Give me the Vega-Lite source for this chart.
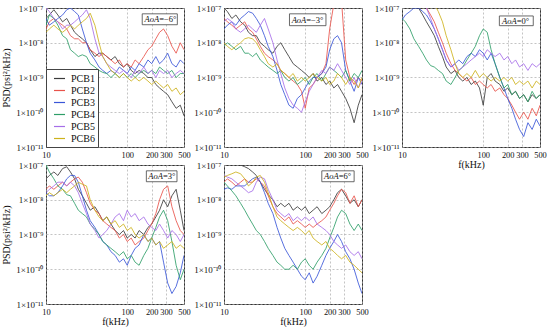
{
"$schema":"https://vega.github.io/schema/vega-lite/v6.json",
"padding":{"left":1,"top":3,"right":4,"bottom":0},
"config":{"font":"Liberation Serif","view":{"stroke":"#333","strokeWidth":1},
"axis":{"domain":false,"ticks":false,"grid":true,"gridColor":"#aaa","gridDash":[2,2],"gridWidth":0.7,"labelFont":"Liberation Serif","labelFontSize":9,"labelColor":"#111","titleFont":"Liberation Serif","titleFontSize":10,"titleFontWeight":"normal","titleColor":"#111","labelPadding":3},
"axisY":{"titlePadding":4},"axisX":{"titlePadding":1,"labelFontSize":8.4,"labelOverlap":false,"labelFlush":false}},
"datasets":{
"m6":[
{"s":"PCB1","f":10,"v":5e-8},{"s":"PCB1","f":11,"v":6.3e-8},{"s":"PCB1","f":12.5,"v":8.9e-8},{"s":"PCB1","f":14,"v":6.3e-8},{"s":"PCB1","f":16,"v":4e-8},{"s":"PCB1","f":18,"v":5e-8},{"s":"PCB1","f":20,"v":3.2e-8},{"s":"PCB1","f":22.5,"v":2e-8},{"s":"PCB1","f":25,"v":1.6e-8},{"s":"PCB1","f":28,"v":1.3e-8},{"s":"PCB1","f":31.5,"v":1e-8},{"s":"PCB1","f":35,"v":6.3e-9},{"s":"PCB1","f":40,"v":4e-9},{"s":"PCB1","f":45,"v":5e-9},{"s":"PCB1","f":50,"v":5e-9},{"s":"PCB1","f":56,"v":4e-9},{"s":"PCB1","f":63,"v":3.2e-9},{"s":"PCB1","f":71,"v":4e-9},{"s":"PCB1","f":80,"v":2.5e-9},{"s":"PCB1","f":90,"v":2e-9},{"s":"PCB1","f":100,"v":2.5e-9},{"s":"PCB1","f":112,"v":1.6e-9},{"s":"PCB1","f":125,"v":1.3e-9},{"s":"PCB1","f":140,"v":1.6e-9},{"s":"PCB1","f":160,"v":1.3e-9},{"s":"PCB1","f":180,"v":1e-9},{"s":"PCB1","f":200,"v":1e-9},{"s":"PCB1","f":225,"v":6.3e-10},{"s":"PCB1","f":250,"v":5e-10},{"s":"PCB1","f":280,"v":4e-10},{"s":"PCB1","f":315,"v":3.2e-10},{"s":"PCB1","f":355,"v":2e-10},{"s":"PCB1","f":400,"v":1.3e-10},{"s":"PCB1","f":450,"v":1.6e-10},{"s":"PCB1","f":500,"v":7.9e-11},
{"s":"PCB2","f":10,"v":2.5e-8},{"s":"PCB2","f":11,"v":4e-8},{"s":"PCB2","f":12.5,"v":5e-8},{"s":"PCB2","f":14,"v":4e-8},{"s":"PCB2","f":16,"v":3.2e-8},{"s":"PCB2","f":18,"v":2.5e-8},{"s":"PCB2","f":20,"v":1.6e-8},{"s":"PCB2","f":22.5,"v":1.3e-8},{"s":"PCB2","f":25,"v":1.3e-8},{"s":"PCB2","f":28,"v":1e-8},{"s":"PCB2","f":31.5,"v":1e-8},{"s":"PCB2","f":35,"v":6.3e-9},{"s":"PCB2","f":40,"v":5e-9},{"s":"PCB2","f":45,"v":4e-9},{"s":"PCB2","f":50,"v":5e-9},{"s":"PCB2","f":56,"v":4e-9},{"s":"PCB2","f":63,"v":3.2e-9},{"s":"PCB2","f":71,"v":2.5e-9},{"s":"PCB2","f":80,"v":3.2e-9},{"s":"PCB2","f":90,"v":2e-9},{"s":"PCB2","f":100,"v":2.5e-9},{"s":"PCB2","f":112,"v":2e-9},{"s":"PCB2","f":125,"v":3.2e-9},{"s":"PCB2","f":140,"v":2.5e-9},{"s":"PCB2","f":160,"v":4e-9},{"s":"PCB2","f":180,"v":6.3e-9},{"s":"PCB2","f":200,"v":7.9e-9},{"s":"PCB2","f":225,"v":1.3e-8},{"s":"PCB2","f":250,"v":2e-8},{"s":"PCB2","f":280,"v":2.5e-8},{"s":"PCB2","f":315,"v":1.6e-8},{"s":"PCB2","f":355,"v":7.9e-9},{"s":"PCB2","f":400,"v":5e-9},{"s":"PCB2","f":450,"v":1e-8},{"s":"PCB2","f":500,"v":6.3e-9},
{"s":"PCB3","f":10,"v":5e-8},{"s":"PCB3","f":11,"v":3.2e-8},{"s":"PCB3","f":12.5,"v":4e-8},{"s":"PCB3","f":14,"v":5e-8},{"s":"PCB3","f":16,"v":6.3e-8},{"s":"PCB3","f":18,"v":8.9e-8},{"s":"PCB3","f":20,"v":1e-7},{"s":"PCB3","f":22.5,"v":7.9e-8},{"s":"PCB3","f":25,"v":6.3e-8},{"s":"PCB3","f":28,"v":2.5e-8},{"s":"PCB3","f":31.5,"v":1e-8},{"s":"PCB3","f":35,"v":5e-9},{"s":"PCB3","f":40,"v":3.2e-9},{"s":"PCB3","f":45,"v":2e-9},{"s":"PCB3","f":50,"v":1.6e-9},{"s":"PCB3","f":56,"v":1.3e-9},{"s":"PCB3","f":63,"v":1.6e-9},{"s":"PCB3","f":71,"v":1.3e-9},{"s":"PCB3","f":80,"v":2e-9},{"s":"PCB3","f":90,"v":1.6e-9},{"s":"PCB3","f":100,"v":1.3e-9},{"s":"PCB3","f":112,"v":2e-9},{"s":"PCB3","f":125,"v":1.6e-9},{"s":"PCB3","f":140,"v":2.5e-9},{"s":"PCB3","f":160,"v":2e-9},{"s":"PCB3","f":180,"v":3.2e-9},{"s":"PCB3","f":200,"v":2.5e-9},{"s":"PCB3","f":225,"v":4e-9},{"s":"PCB3","f":250,"v":2.5e-9},{"s":"PCB3","f":280,"v":3.2e-9},{"s":"PCB3","f":315,"v":5e-9},{"s":"PCB3","f":355,"v":2.5e-9},{"s":"PCB3","f":400,"v":2e-9},{"s":"PCB3","f":450,"v":3.2e-9},{"s":"PCB3","f":500,"v":2.5e-9},
{"s":"PCB4","f":10,"v":3.2e-8},{"s":"PCB4","f":11,"v":6.3e-8},{"s":"PCB4","f":12.5,"v":5e-8},{"s":"PCB4","f":14,"v":3.2e-8},{"s":"PCB4","f":16,"v":1.6e-8},{"s":"PCB4","f":18,"v":1.3e-8},{"s":"PCB4","f":20,"v":6.3e-9},{"s":"PCB4","f":22.5,"v":5e-9},{"s":"PCB4","f":25,"v":4e-9},{"s":"PCB4","f":28,"v":4.5e-9},{"s":"PCB4","f":31.5,"v":4e-9},{"s":"PCB4","f":35,"v":2.5e-9},{"s":"PCB4","f":40,"v":2e-9},{"s":"PCB4","f":45,"v":1.6e-9},{"s":"PCB4","f":50,"v":1.4e-9},{"s":"PCB4","f":56,"v":1.3e-9},{"s":"PCB4","f":63,"v":1e-9},{"s":"PCB4","f":71,"v":1.3e-9},{"s":"PCB4","f":80,"v":1e-9},{"s":"PCB4","f":90,"v":1.3e-9},{"s":"PCB4","f":100,"v":1e-9},{"s":"PCB4","f":112,"v":1.3e-9},{"s":"PCB4","f":125,"v":1e-9},{"s":"PCB4","f":140,"v":1.3e-9},{"s":"PCB4","f":160,"v":1.6e-9},{"s":"PCB4","f":180,"v":1.3e-9},{"s":"PCB4","f":200,"v":1.6e-9},{"s":"PCB4","f":225,"v":1.3e-9},{"s":"PCB4","f":250,"v":2e-9},{"s":"PCB4","f":280,"v":1.6e-9},{"s":"PCB4","f":315,"v":1.3e-9},{"s":"PCB4","f":355,"v":1.6e-9},{"s":"PCB4","f":400,"v":1e-9},{"s":"PCB4","f":450,"v":1.3e-9},{"s":"PCB4","f":500,"v":1.3e-9},
{"s":"PCB5","f":10,"v":1e-7},{"s":"PCB5","f":11,"v":7.9e-8},{"s":"PCB5","f":12.5,"v":5e-8},{"s":"PCB5","f":14,"v":4e-8},{"s":"PCB5","f":16,"v":2.5e-8},{"s":"PCB5","f":18,"v":3.2e-8},{"s":"PCB5","f":20,"v":3.2e-8},{"s":"PCB5","f":22.5,"v":4e-8},{"s":"PCB5","f":25,"v":5e-8},{"s":"PCB5","f":28,"v":6.3e-8},{"s":"PCB5","f":31.5,"v":8.9e-8},{"s":"PCB5","f":35,"v":5e-8},{"s":"PCB5","f":40,"v":1.3e-8},{"s":"PCB5","f":45,"v":5e-9},{"s":"PCB5","f":50,"v":4e-9},{"s":"PCB5","f":56,"v":2.5e-9},{"s":"PCB5","f":63,"v":2e-9},{"s":"PCB5","f":71,"v":1.6e-9},{"s":"PCB5","f":80,"v":1.3e-9},{"s":"PCB5","f":90,"v":1.6e-9},{"s":"PCB5","f":100,"v":1.3e-9},{"s":"PCB5","f":112,"v":1e-9},{"s":"PCB5","f":125,"v":1.6e-9},{"s":"PCB5","f":140,"v":1.3e-9},{"s":"PCB5","f":160,"v":2e-9},{"s":"PCB5","f":180,"v":1.3e-9},{"s":"PCB5","f":200,"v":1.6e-9},{"s":"PCB5","f":225,"v":1e-9},{"s":"PCB5","f":250,"v":1.6e-9},{"s":"PCB5","f":280,"v":1.3e-9},{"s":"PCB5","f":315,"v":1.6e-9},{"s":"PCB5","f":355,"v":1e-9},{"s":"PCB5","f":400,"v":1.3e-9},{"s":"PCB5","f":450,"v":1.6e-9},{"s":"PCB5","f":500,"v":1.3e-9},
{"s":"PCB6","f":10,"v":2e-8},{"s":"PCB6","f":11,"v":2.5e-8},{"s":"PCB6","f":12.5,"v":3.2e-8},{"s":"PCB6","f":14,"v":2.5e-8},{"s":"PCB6","f":16,"v":2e-8},{"s":"PCB6","f":18,"v":2.5e-8},{"s":"PCB6","f":20,"v":3.2e-8},{"s":"PCB6","f":22.5,"v":2.5e-8},{"s":"PCB6","f":25,"v":3.2e-8},{"s":"PCB6","f":28,"v":4e-8},{"s":"PCB6","f":31.5,"v":5e-8},{"s":"PCB6","f":35,"v":7.1e-8},{"s":"PCB6","f":40,"v":3.2e-8},{"s":"PCB6","f":45,"v":1e-8},{"s":"PCB6","f":50,"v":4e-9},{"s":"PCB6","f":56,"v":2.5e-9},{"s":"PCB6","f":63,"v":1.6e-9},{"s":"PCB6","f":71,"v":1.3e-9},{"s":"PCB6","f":80,"v":1e-9},{"s":"PCB6","f":90,"v":1.3e-9},{"s":"PCB6","f":100,"v":1e-9},{"s":"PCB6","f":112,"v":7.9e-10},{"s":"PCB6","f":125,"v":1e-9},{"s":"PCB6","f":140,"v":7.9e-10},{"s":"PCB6","f":160,"v":1e-9},{"s":"PCB6","f":180,"v":7.9e-10},{"s":"PCB6","f":200,"v":6.3e-10},{"s":"PCB6","f":225,"v":7.9e-10},{"s":"PCB6","f":250,"v":6.3e-10},{"s":"PCB6","f":280,"v":5e-10},{"s":"PCB6","f":315,"v":6.3e-10},{"s":"PCB6","f":355,"v":4e-10},{"s":"PCB6","f":400,"v":5e-10},{"s":"PCB6","f":450,"v":3.2e-10},{"s":"PCB6","f":500,"v":4e-10}
],
"m3":[
{"s":"PCB1","f":10,"v":1e-7},{"s":"PCB1","f":11,"v":7.9e-8},{"s":"PCB1","f":12.5,"v":5e-8},{"s":"PCB1","f":14,"v":6.3e-8},{"s":"PCB1","f":16,"v":4e-8},{"s":"PCB1","f":18,"v":3.2e-8},{"s":"PCB1","f":20,"v":2e-8},{"s":"PCB1","f":22.5,"v":1.6e-8},{"s":"PCB1","f":25,"v":1.6e-8},{"s":"PCB1","f":28,"v":1e-8},{"s":"PCB1","f":31.5,"v":7.9e-9},{"s":"PCB1","f":35,"v":6.3e-9},{"s":"PCB1","f":40,"v":5e-9},{"s":"PCB1","f":45,"v":7.9e-9},{"s":"PCB1","f":50,"v":1e-8},{"s":"PCB1","f":56,"v":6.3e-9},{"s":"PCB1","f":63,"v":4e-9},{"s":"PCB1","f":71,"v":2.5e-9},{"s":"PCB1","f":80,"v":2e-9},{"s":"PCB1","f":90,"v":1.6e-9},{"s":"PCB1","f":100,"v":1.3e-9},{"s":"PCB1","f":112,"v":1e-9},{"s":"PCB1","f":125,"v":1.3e-9},{"s":"PCB1","f":140,"v":7.9e-10},{"s":"PCB1","f":160,"v":1e-9},{"s":"PCB1","f":180,"v":6.3e-10},{"s":"PCB1","f":200,"v":7.9e-10},{"s":"PCB1","f":225,"v":5e-10},{"s":"PCB1","f":250,"v":6.3e-10},{"s":"PCB1","f":280,"v":4e-10},{"s":"PCB1","f":315,"v":2.5e-10},{"s":"PCB1","f":355,"v":1.3e-10},{"s":"PCB1","f":400,"v":5e-11},{"s":"PCB1","f":450,"v":1.6e-10},{"s":"PCB1","f":500,"v":3.2e-10},
{"s":"PCB2","f":10,"v":5e-8},{"s":"PCB2","f":11,"v":4e-8},{"s":"PCB2","f":12.5,"v":3.2e-8},{"s":"PCB2","f":14,"v":2.5e-8},{"s":"PCB2","f":16,"v":3.2e-8},{"s":"PCB2","f":18,"v":4e-8},{"s":"PCB2","f":20,"v":2.5e-8},{"s":"PCB2","f":22.5,"v":2e-8},{"s":"PCB2","f":25,"v":1.3e-8},{"s":"PCB2","f":28,"v":7.9e-9},{"s":"PCB2","f":31.5,"v":5e-9},{"s":"PCB2","f":35,"v":4e-9},{"s":"PCB2","f":40,"v":3.2e-9},{"s":"PCB2","f":45,"v":2.5e-9},{"s":"PCB2","f":50,"v":1.6e-9},{"s":"PCB2","f":56,"v":1.3e-9},{"s":"PCB2","f":63,"v":1e-9},{"s":"PCB2","f":71,"v":7.9e-10},{"s":"PCB2","f":80,"v":6.3e-10},{"s":"PCB2","f":90,"v":4e-10},{"s":"PCB2","f":100,"v":1.3e-10},{"s":"PCB2","f":112,"v":5e-10},{"s":"PCB2","f":125,"v":6.3e-10},{"s":"PCB2","f":140,"v":1e-9},{"s":"PCB2","f":160,"v":1.3e-9},{"s":"PCB2","f":180,"v":2.5e-9},{"s":"PCB2","f":200,"v":2.5e-8},{"s":"PCB2","f":225,"v":1.3e-7},{"s":"PCB2","f":250,"v":1e-7},{"s":"PCB2","f":280,"v":1.6e-7},{"s":"PCB2","f":315,"v":3.2e-9},{"s":"PCB2","f":355,"v":1e-9},{"s":"PCB2","f":400,"v":6.3e-10},{"s":"PCB2","f":450,"v":1e-9},{"s":"PCB2","f":500,"v":7.9e-10},
{"s":"PCB3","f":10,"v":2.5e-8},{"s":"PCB3","f":11,"v":3.2e-8},{"s":"PCB3","f":12.5,"v":4e-8},{"s":"PCB3","f":14,"v":3.2e-8},{"s":"PCB3","f":16,"v":5e-8},{"s":"PCB3","f":18,"v":6.3e-8},{"s":"PCB3","f":20,"v":7.9e-8},{"s":"PCB3","f":22.5,"v":7.1e-8},{"s":"PCB3","f":25,"v":5e-8},{"s":"PCB3","f":28,"v":3.2e-8},{"s":"PCB3","f":31.5,"v":1.6e-8},{"s":"PCB3","f":35,"v":7.9e-9},{"s":"PCB3","f":40,"v":4e-9},{"s":"PCB3","f":45,"v":1.6e-9},{"s":"PCB3","f":50,"v":6.3e-10},{"s":"PCB3","f":56,"v":3.2e-10},{"s":"PCB3","f":63,"v":1.6e-10},{"s":"PCB3","f":71,"v":1.3e-10},{"s":"PCB3","f":80,"v":2.5e-10},{"s":"PCB3","f":90,"v":3.2e-10},{"s":"PCB3","f":100,"v":5e-10},{"s":"PCB3","f":112,"v":7.9e-10},{"s":"PCB3","f":125,"v":1e-9},{"s":"PCB3","f":140,"v":1e-9},{"s":"PCB3","f":160,"v":1.3e-9},{"s":"PCB3","f":180,"v":2e-9},{"s":"PCB3","f":200,"v":6.3e-9},{"s":"PCB3","f":225,"v":1.3e-8},{"s":"PCB3","f":250,"v":1.6e-8},{"s":"PCB3","f":280,"v":1e-8},{"s":"PCB3","f":315,"v":1.6e-9},{"s":"PCB3","f":355,"v":7.9e-10},{"s":"PCB3","f":400,"v":4e-10},{"s":"PCB3","f":450,"v":1e-9},{"s":"PCB3","f":500,"v":6.3e-10},
{"s":"PCB4","f":10,"v":7.9e-9},{"s":"PCB4","f":11,"v":1e-8},{"s":"PCB4","f":12.5,"v":7.9e-9},{"s":"PCB4","f":14,"v":6.3e-9},{"s":"PCB4","f":16,"v":7.9e-9},{"s":"PCB4","f":18,"v":5e-9},{"s":"PCB4","f":20,"v":5e-9},{"s":"PCB4","f":22.5,"v":4e-9},{"s":"PCB4","f":25,"v":5e-9},{"s":"PCB4","f":28,"v":3.2e-9},{"s":"PCB4","f":31.5,"v":2.5e-9},{"s":"PCB4","f":35,"v":2e-9},{"s":"PCB4","f":40,"v":1.6e-9},{"s":"PCB4","f":45,"v":1.3e-9},{"s":"PCB4","f":50,"v":1.6e-9},{"s":"PCB4","f":56,"v":1e-9},{"s":"PCB4","f":63,"v":7.9e-10},{"s":"PCB4","f":71,"v":1e-9},{"s":"PCB4","f":80,"v":6.3e-10},{"s":"PCB4","f":90,"v":7.9e-10},{"s":"PCB4","f":100,"v":1e-9},{"s":"PCB4","f":112,"v":6.3e-10},{"s":"PCB4","f":125,"v":1e-9},{"s":"PCB4","f":140,"v":1.3e-9},{"s":"PCB4","f":160,"v":7.9e-10},{"s":"PCB4","f":180,"v":1.3e-9},{"s":"PCB4","f":200,"v":2e-9},{"s":"PCB4","f":225,"v":1.6e-9},{"s":"PCB4","f":250,"v":1.3e-9},{"s":"PCB4","f":280,"v":1e-9},{"s":"PCB4","f":315,"v":1.6e-9},{"s":"PCB4","f":355,"v":7.9e-10},{"s":"PCB4","f":400,"v":1.3e-9},{"s":"PCB4","f":450,"v":1e-9},{"s":"PCB4","f":500,"v":1.6e-9},
{"s":"PCB5","f":10,"v":4e-8},{"s":"PCB5","f":11,"v":5e-8},{"s":"PCB5","f":12.5,"v":4e-8},{"s":"PCB5","f":14,"v":2.5e-8},{"s":"PCB5","f":16,"v":2e-8},{"s":"PCB5","f":18,"v":2.5e-8},{"s":"PCB5","f":20,"v":3.2e-8},{"s":"PCB5","f":22.5,"v":2.5e-8},{"s":"PCB5","f":25,"v":2e-8},{"s":"PCB5","f":28,"v":3.2e-8},{"s":"PCB5","f":31.5,"v":5e-8},{"s":"PCB5","f":35,"v":2.5e-8},{"s":"PCB5","f":40,"v":1e-8},{"s":"PCB5","f":45,"v":3.2e-9},{"s":"PCB5","f":50,"v":1.3e-9},{"s":"PCB5","f":56,"v":5e-10},{"s":"PCB5","f":63,"v":2.5e-10},{"s":"PCB5","f":71,"v":1.6e-10},{"s":"PCB5","f":80,"v":1.3e-10},{"s":"PCB5","f":90,"v":1e-10},{"s":"PCB5","f":100,"v":2e-10},{"s":"PCB5","f":112,"v":4e-10},{"s":"PCB5","f":125,"v":6.3e-10},{"s":"PCB5","f":140,"v":1e-9},{"s":"PCB5","f":160,"v":1.6e-9},{"s":"PCB5","f":180,"v":1.3e-9},{"s":"PCB5","f":200,"v":2e-9},{"s":"PCB5","f":225,"v":1.6e-9},{"s":"PCB5","f":250,"v":2.5e-9},{"s":"PCB5","f":280,"v":1.6e-9},{"s":"PCB5","f":315,"v":1e-9},{"s":"PCB5","f":355,"v":6.3e-10},{"s":"PCB5","f":400,"v":1e-9},{"s":"PCB5","f":450,"v":5e-10},{"s":"PCB5","f":500,"v":7.9e-10},
{"s":"PCB6","f":10,"v":1e-8},{"s":"PCB6","f":11,"v":7.9e-9},{"s":"PCB6","f":12.5,"v":6.3e-9},{"s":"PCB6","f":14,"v":7.9e-9},{"s":"PCB6","f":16,"v":1e-8},{"s":"PCB6","f":18,"v":1.3e-8},{"s":"PCB6","f":20,"v":1.4e-8},{"s":"PCB6","f":22.5,"v":1.3e-8},{"s":"PCB6","f":25,"v":1e-8},{"s":"PCB6","f":28,"v":6.3e-9},{"s":"PCB6","f":31.5,"v":4e-9},{"s":"PCB6","f":35,"v":2.5e-9},{"s":"PCB6","f":40,"v":2e-9},{"s":"PCB6","f":45,"v":2.5e-9},{"s":"PCB6","f":50,"v":1.6e-9},{"s":"PCB6","f":56,"v":1.3e-9},{"s":"PCB6","f":63,"v":1e-9},{"s":"PCB6","f":71,"v":1.3e-9},{"s":"PCB6","f":80,"v":7.9e-10},{"s":"PCB6","f":90,"v":1e-9},{"s":"PCB6","f":100,"v":7.9e-10},{"s":"PCB6","f":112,"v":1e-9},{"s":"PCB6","f":125,"v":1.3e-9},{"s":"PCB6","f":140,"v":1e-9},{"s":"PCB6","f":160,"v":7.9e-10},{"s":"PCB6","f":180,"v":1e-9},{"s":"PCB6","f":200,"v":6.3e-10},{"s":"PCB6","f":225,"v":7.9e-10},{"s":"PCB6","f":250,"v":1.3e-9},{"s":"PCB6","f":280,"v":1e-9},{"s":"PCB6","f":315,"v":6.3e-10},{"s":"PCB6","f":355,"v":1e-9},{"s":"PCB6","f":400,"v":7.9e-10},{"s":"PCB6","f":450,"v":5e-10},{"s":"PCB6","f":500,"v":1e-9}
],
"z0":[
{"s":"PCB1","f":10,"v":1.6e-7},{"s":"PCB1","f":11,"v":1.6e-7},{"s":"PCB1","f":12.5,"v":1.3e-7},{"s":"PCB1","f":14,"v":1.3e-7},{"s":"PCB1","f":16,"v":1e-7},{"s":"PCB1","f":18,"v":6.3e-8},{"s":"PCB1","f":20,"v":4e-8},{"s":"PCB1","f":22.5,"v":2.5e-8},{"s":"PCB1","f":25,"v":1.6e-8},{"s":"PCB1","f":28,"v":7.9e-9},{"s":"PCB1","f":31.5,"v":4e-9},{"s":"PCB1","f":35,"v":2e-9},{"s":"PCB1","f":40,"v":1.3e-9},{"s":"PCB1","f":45,"v":1.6e-9},{"s":"PCB1","f":50,"v":1e-9},{"s":"PCB1","f":56,"v":7.9e-10},{"s":"PCB1","f":63,"v":1e-9},{"s":"PCB1","f":71,"v":6.3e-10},{"s":"PCB1","f":80,"v":7.9e-10},{"s":"PCB1","f":90,"v":5e-10},{"s":"PCB1","f":100,"v":1.6e-10},{"s":"PCB1","f":112,"v":1e-9},{"s":"PCB1","f":125,"v":1.3e-9},{"s":"PCB1","f":140,"v":7.9e-10},{"s":"PCB1","f":160,"v":6.3e-10},{"s":"PCB1","f":180,"v":4e-10},{"s":"PCB1","f":200,"v":5e-10},{"s":"PCB1","f":225,"v":3.2e-10},{"s":"PCB1","f":250,"v":4e-10},{"s":"PCB1","f":280,"v":2.5e-10},{"s":"PCB1","f":315,"v":3.2e-10},{"s":"PCB1","f":355,"v":2e-10},{"s":"PCB1","f":400,"v":3.2e-10},{"s":"PCB1","f":450,"v":2.5e-10},{"s":"PCB1","f":500,"v":3.2e-10},
{"s":"PCB2","f":10,"v":1.6e-7},{"s":"PCB2","f":11,"v":1.6e-7},{"s":"PCB2","f":12.5,"v":1.6e-7},{"s":"PCB2","f":14,"v":1.6e-7},{"s":"PCB2","f":16,"v":1.6e-7},{"s":"PCB2","f":18,"v":1.3e-7},{"s":"PCB2","f":20,"v":1e-7},{"s":"PCB2","f":22.5,"v":6.3e-8},{"s":"PCB2","f":25,"v":4e-8},{"s":"PCB2","f":28,"v":2e-8},{"s":"PCB2","f":31.5,"v":1e-8},{"s":"PCB2","f":35,"v":5e-9},{"s":"PCB2","f":40,"v":2.5e-9},{"s":"PCB2","f":45,"v":1.6e-9},{"s":"PCB2","f":50,"v":1.3e-9},{"s":"PCB2","f":56,"v":1e-9},{"s":"PCB2","f":63,"v":7.9e-10},{"s":"PCB2","f":71,"v":1e-9},{"s":"PCB2","f":80,"v":6.3e-10},{"s":"PCB2","f":90,"v":7.9e-10},{"s":"PCB2","f":100,"v":6.3e-10},{"s":"PCB2","f":112,"v":5e-10},{"s":"PCB2","f":125,"v":6.3e-10},{"s":"PCB2","f":140,"v":4e-10},{"s":"PCB2","f":160,"v":5e-10},{"s":"PCB2","f":180,"v":3.2e-10},{"s":"PCB2","f":200,"v":2.5e-10},{"s":"PCB2","f":225,"v":1.6e-10},{"s":"PCB2","f":250,"v":1e-10},{"s":"PCB2","f":280,"v":6.3e-11},{"s":"PCB2","f":315,"v":1e-10},{"s":"PCB2","f":355,"v":6.3e-11},{"s":"PCB2","f":400,"v":1.3e-10},{"s":"PCB2","f":450,"v":7.9e-11},{"s":"PCB2","f":500,"v":1.6e-10},
{"s":"PCB3","f":10,"v":4.5e-8},{"s":"PCB3","f":11,"v":6.3e-8},{"s":"PCB3","f":12.5,"v":7.9e-8},{"s":"PCB3","f":14,"v":1e-7},{"s":"PCB3","f":16,"v":1e-7},{"s":"PCB3","f":18,"v":7.9e-8},{"s":"PCB3","f":20,"v":6.3e-8},{"s":"PCB3","f":22.5,"v":4e-8},{"s":"PCB3","f":25,"v":2.5e-8},{"s":"PCB3","f":28,"v":1.3e-8},{"s":"PCB3","f":31.5,"v":6.3e-9},{"s":"PCB3","f":35,"v":3.2e-9},{"s":"PCB3","f":40,"v":2e-9},{"s":"PCB3","f":45,"v":2.5e-9},{"s":"PCB3","f":50,"v":3.2e-9},{"s":"PCB3","f":56,"v":2.5e-9},{"s":"PCB3","f":63,"v":4e-9},{"s":"PCB3","f":71,"v":5e-9},{"s":"PCB3","f":80,"v":4e-9},{"s":"PCB3","f":90,"v":6.3e-9},{"s":"PCB3","f":100,"v":5e-9},{"s":"PCB3","f":112,"v":3.2e-9},{"s":"PCB3","f":125,"v":5e-9},{"s":"PCB3","f":140,"v":2.5e-9},{"s":"PCB3","f":160,"v":1e-9},{"s":"PCB3","f":180,"v":5e-10},{"s":"PCB3","f":200,"v":2.5e-10},{"s":"PCB3","f":225,"v":1.3e-10},{"s":"PCB3","f":250,"v":6.3e-11},{"s":"PCB3","f":280,"v":3.2e-11},{"s":"PCB3","f":315,"v":2e-11},{"s":"PCB3","f":355,"v":5e-11},{"s":"PCB3","f":400,"v":3.2e-11},{"s":"PCB3","f":450,"v":6.3e-11},{"s":"PCB3","f":500,"v":4e-11},
{"s":"PCB4","f":10,"v":5e-8},{"s":"PCB4","f":11,"v":4e-8},{"s":"PCB4","f":12.5,"v":2.5e-8},{"s":"PCB4","f":14,"v":1.3e-8},{"s":"PCB4","f":16,"v":7.9e-9},{"s":"PCB4","f":18,"v":5e-9},{"s":"PCB4","f":20,"v":3.2e-9},{"s":"PCB4","f":22.5,"v":2.2e-9},{"s":"PCB4","f":25,"v":2e-9},{"s":"PCB4","f":28,"v":1.6e-9},{"s":"PCB4","f":31.5,"v":1.3e-9},{"s":"PCB4","f":35,"v":7.9e-10},{"s":"PCB4","f":40,"v":6.3e-10},{"s":"PCB4","f":45,"v":1e-9},{"s":"PCB4","f":50,"v":1.6e-9},{"s":"PCB4","f":56,"v":2e-9},{"s":"PCB4","f":63,"v":3.2e-9},{"s":"PCB4","f":71,"v":5e-9},{"s":"PCB4","f":80,"v":7.9e-9},{"s":"PCB4","f":90,"v":1.6e-8},{"s":"PCB4","f":100,"v":2.5e-8},{"s":"PCB4","f":112,"v":2e-8},{"s":"PCB4","f":125,"v":6.3e-9},{"s":"PCB4","f":140,"v":2.5e-9},{"s":"PCB4","f":160,"v":1e-9},{"s":"PCB4","f":180,"v":5e-10},{"s":"PCB4","f":200,"v":6.3e-10},{"s":"PCB4","f":225,"v":3.2e-10},{"s":"PCB4","f":250,"v":4e-10},{"s":"PCB4","f":280,"v":2.5e-10},{"s":"PCB4","f":315,"v":3.2e-10},{"s":"PCB4","f":355,"v":2e-10},{"s":"PCB4","f":400,"v":4e-10},{"s":"PCB4","f":450,"v":2.5e-10},{"s":"PCB4","f":500,"v":3.2e-10},
{"s":"PCB5","f":10,"v":1.6e-7},{"s":"PCB5","f":11,"v":1.6e-7},{"s":"PCB5","f":12.5,"v":1.6e-7},{"s":"PCB5","f":14,"v":1.6e-7},{"s":"PCB5","f":16,"v":1.6e-7},{"s":"PCB5","f":18,"v":1.3e-7},{"s":"PCB5","f":20,"v":1e-7},{"s":"PCB5","f":22.5,"v":5e-8},{"s":"PCB5","f":25,"v":2.5e-8},{"s":"PCB5","f":28,"v":1.3e-8},{"s":"PCB5","f":31.5,"v":6.3e-9},{"s":"PCB5","f":35,"v":3.2e-9},{"s":"PCB5","f":40,"v":2e-9},{"s":"PCB5","f":45,"v":2.5e-9},{"s":"PCB5","f":50,"v":1.6e-9},{"s":"PCB5","f":56,"v":2e-9},{"s":"PCB5","f":63,"v":2.5e-9},{"s":"PCB5","f":71,"v":3.2e-9},{"s":"PCB5","f":80,"v":4e-9},{"s":"PCB5","f":90,"v":5e-9},{"s":"PCB5","f":100,"v":4e-9},{"s":"PCB5","f":112,"v":6.3e-9},{"s":"PCB5","f":125,"v":5e-9},{"s":"PCB5","f":140,"v":4e-9},{"s":"PCB5","f":160,"v":5e-9},{"s":"PCB5","f":180,"v":3.2e-9},{"s":"PCB5","f":200,"v":4e-9},{"s":"PCB5","f":225,"v":2.5e-9},{"s":"PCB5","f":250,"v":3.2e-9},{"s":"PCB5","f":280,"v":2e-9},{"s":"PCB5","f":315,"v":2.5e-9},{"s":"PCB5","f":355,"v":1.6e-9},{"s":"PCB5","f":400,"v":2.5e-9},{"s":"PCB5","f":450,"v":2e-9},{"s":"PCB5","f":500,"v":2.5e-9},
{"s":"PCB6","f":10,"v":1.3e-7},{"s":"PCB6","f":11,"v":1.3e-7},{"s":"PCB6","f":12.5,"v":1.6e-7},{"s":"PCB6","f":14,"v":1.3e-7},{"s":"PCB6","f":16,"v":1.3e-7},{"s":"PCB6","f":18,"v":1e-7},{"s":"PCB6","f":20,"v":1.3e-7},{"s":"PCB6","f":22.5,"v":1e-7},{"s":"PCB6","f":25,"v":1.3e-7},{"s":"PCB6","f":28,"v":7.9e-8},{"s":"PCB6","f":31.5,"v":4e-8},{"s":"PCB6","f":35,"v":1.6e-8},{"s":"PCB6","f":40,"v":6.3e-9},{"s":"PCB6","f":45,"v":2.5e-9},{"s":"PCB6","f":50,"v":1.3e-9},{"s":"PCB6","f":56,"v":1e-9},{"s":"PCB6","f":63,"v":1.3e-9},{"s":"PCB6","f":71,"v":1e-9},{"s":"PCB6","f":80,"v":1.6e-9},{"s":"PCB6","f":90,"v":1e-9},{"s":"PCB6","f":100,"v":1.3e-9},{"s":"PCB6","f":112,"v":1e-9},{"s":"PCB6","f":125,"v":7.9e-10},{"s":"PCB6","f":140,"v":1e-9},{"s":"PCB6","f":160,"v":7.9e-10},{"s":"PCB6","f":180,"v":1e-9},{"s":"PCB6","f":200,"v":7.9e-10},{"s":"PCB6","f":225,"v":1e-9},{"s":"PCB6","f":250,"v":6.3e-10},{"s":"PCB6","f":280,"v":7.9e-10},{"s":"PCB6","f":315,"v":6.3e-10},{"s":"PCB6","f":355,"v":7.9e-10},{"s":"PCB6","f":400,"v":5e-10},{"s":"PCB6","f":450,"v":7.9e-10},{"s":"PCB6","f":500,"v":6.3e-10}
],
"p3":[
{"s":"PCB1","f":10,"v":4e-8},{"s":"PCB1","f":11,"v":5e-8},{"s":"PCB1","f":12.5,"v":6.3e-8},{"s":"PCB1","f":14,"v":5e-8},{"s":"PCB1","f":16,"v":7.9e-8},{"s":"PCB1","f":18,"v":8.9e-8},{"s":"PCB1","f":20,"v":6.3e-8},{"s":"PCB1","f":22.5,"v":4e-8},{"s":"PCB1","f":25,"v":2e-8},{"s":"PCB1","f":28,"v":1.3e-8},{"s":"PCB1","f":31.5,"v":7.9e-9},{"s":"PCB1","f":35,"v":5e-9},{"s":"PCB1","f":40,"v":6.3e-9},{"s":"PCB1","f":45,"v":4e-9},{"s":"PCB1","f":50,"v":2.5e-9},{"s":"PCB1","f":56,"v":3.2e-9},{"s":"PCB1","f":63,"v":2e-9},{"s":"PCB1","f":71,"v":1.3e-9},{"s":"PCB1","f":80,"v":1e-9},{"s":"PCB1","f":90,"v":1.3e-9},{"s":"PCB1","f":100,"v":7.9e-10},{"s":"PCB1","f":112,"v":1e-9},{"s":"PCB1","f":125,"v":7.9e-10},{"s":"PCB1","f":140,"v":1.3e-9},{"s":"PCB1","f":160,"v":1e-9},{"s":"PCB1","f":180,"v":1.6e-9},{"s":"PCB1","f":200,"v":2e-9},{"s":"PCB1","f":225,"v":3.2e-9},{"s":"PCB1","f":250,"v":5e-9},{"s":"PCB1","f":280,"v":1e-8},{"s":"PCB1","f":315,"v":6.3e-9},{"s":"PCB1","f":355,"v":1.3e-8},{"s":"PCB1","f":400,"v":2e-8},{"s":"PCB1","f":450,"v":5e-9},{"s":"PCB1","f":500,"v":1.3e-9},
{"s":"PCB2","f":10,"v":2e-8},{"s":"PCB2","f":11,"v":2.5e-8},{"s":"PCB2","f":12.5,"v":2e-8},{"s":"PCB2","f":14,"v":2.5e-8},{"s":"PCB2","f":16,"v":3.2e-8},{"s":"PCB2","f":18,"v":2.5e-8},{"s":"PCB2","f":20,"v":3.2e-8},{"s":"PCB2","f":22.5,"v":4e-8},{"s":"PCB2","f":25,"v":4.5e-8},{"s":"PCB2","f":28,"v":3.2e-8},{"s":"PCB2","f":31.5,"v":1.6e-8},{"s":"PCB2","f":35,"v":7.9e-9},{"s":"PCB2","f":40,"v":5e-9},{"s":"PCB2","f":45,"v":4e-9},{"s":"PCB2","f":50,"v":2.5e-9},{"s":"PCB2","f":56,"v":2e-9},{"s":"PCB2","f":63,"v":1.6e-9},{"s":"PCB2","f":71,"v":1.3e-9},{"s":"PCB2","f":80,"v":7.9e-10},{"s":"PCB2","f":90,"v":1e-9},{"s":"PCB2","f":100,"v":6.3e-10},{"s":"PCB2","f":112,"v":7.9e-10},{"s":"PCB2","f":125,"v":5e-10},{"s":"PCB2","f":140,"v":6.3e-10},{"s":"PCB2","f":160,"v":7.9e-10},{"s":"PCB2","f":180,"v":1.3e-9},{"s":"PCB2","f":200,"v":2e-9},{"s":"PCB2","f":225,"v":4e-9},{"s":"PCB2","f":250,"v":1e-8},{"s":"PCB2","f":280,"v":2e-8},{"s":"PCB2","f":315,"v":2.5e-8},{"s":"PCB2","f":355,"v":6.3e-9},{"s":"PCB2","f":400,"v":2.5e-9},{"s":"PCB2","f":450,"v":1.3e-9},{"s":"PCB2","f":500,"v":1e-9},
{"s":"PCB3","f":10,"v":1.6e-8},{"s":"PCB3","f":11,"v":1.3e-8},{"s":"PCB3","f":12.5,"v":1.3e-8},{"s":"PCB3","f":14,"v":1.6e-8},{"s":"PCB3","f":16,"v":2.5e-8},{"s":"PCB3","f":18,"v":4e-8},{"s":"PCB3","f":20,"v":5e-8},{"s":"PCB3","f":22.5,"v":5e-8},{"s":"PCB3","f":25,"v":3.2e-8},{"s":"PCB3","f":28,"v":1.3e-8},{"s":"PCB3","f":31.5,"v":5e-9},{"s":"PCB3","f":35,"v":2.5e-9},{"s":"PCB3","f":40,"v":1.6e-9},{"s":"PCB3","f":45,"v":1e-9},{"s":"PCB3","f":50,"v":6.3e-10},{"s":"PCB3","f":56,"v":5e-10},{"s":"PCB3","f":63,"v":3.2e-10},{"s":"PCB3","f":71,"v":2.5e-10},{"s":"PCB3","f":80,"v":1.6e-10},{"s":"PCB3","f":90,"v":2e-10},{"s":"PCB3","f":100,"v":1.3e-10},{"s":"PCB3","f":112,"v":2.5e-10},{"s":"PCB3","f":125,"v":4e-10},{"s":"PCB3","f":140,"v":5e-10},{"s":"PCB3","f":160,"v":1e-9},{"s":"PCB3","f":180,"v":6.3e-10},{"s":"PCB3","f":200,"v":7.9e-10},{"s":"PCB3","f":225,"v":5e-10},{"s":"PCB3","f":250,"v":6.3e-10},{"s":"PCB3","f":280,"v":1.6e-10},{"s":"PCB3","f":315,"v":4e-11},{"s":"PCB3","f":355,"v":2e-11},{"s":"PCB3","f":400,"v":3.2e-11},{"s":"PCB3","f":450,"v":7.9e-11},{"s":"PCB3","f":500,"v":2.5e-10},
{"s":"PCB4","f":10,"v":1e-7},{"s":"PCB4","f":11,"v":6.3e-8},{"s":"PCB4","f":12.5,"v":4e-8},{"s":"PCB4","f":14,"v":2.5e-8},{"s":"PCB4","f":16,"v":2e-8},{"s":"PCB4","f":18,"v":1.4e-8},{"s":"PCB4","f":20,"v":1.3e-8},{"s":"PCB4","f":22.5,"v":7.9e-9},{"s":"PCB4","f":25,"v":5e-9},{"s":"PCB4","f":28,"v":4e-9},{"s":"PCB4","f":31.5,"v":3.2e-9},{"s":"PCB4","f":35,"v":2e-9},{"s":"PCB4","f":40,"v":1.4e-9},{"s":"PCB4","f":45,"v":1e-9},{"s":"PCB4","f":50,"v":6.3e-10},{"s":"PCB4","f":56,"v":5e-10},{"s":"PCB4","f":63,"v":4e-10},{"s":"PCB4","f":71,"v":3.2e-10},{"s":"PCB4","f":80,"v":2.5e-10},{"s":"PCB4","f":90,"v":3.2e-10},{"s":"PCB4","f":100,"v":2e-10},{"s":"PCB4","f":112,"v":2.5e-10},{"s":"PCB4","f":125,"v":1.6e-10},{"s":"PCB4","f":140,"v":1.3e-10},{"s":"PCB4","f":160,"v":2.5e-10},{"s":"PCB4","f":180,"v":4e-10},{"s":"PCB4","f":200,"v":7.9e-10},{"s":"PCB4","f":225,"v":1.6e-9},{"s":"PCB4","f":250,"v":3.2e-9},{"s":"PCB4","f":280,"v":5e-9},{"s":"PCB4","f":315,"v":2.5e-9},{"s":"PCB4","f":355,"v":6.3e-10},{"s":"PCB4","f":400,"v":1.3e-10},{"s":"PCB4","f":450,"v":5e-11},{"s":"PCB4","f":500,"v":1e-10},
{"s":"PCB5","f":10,"v":1.6e-8},{"s":"PCB5","f":11,"v":2e-8},{"s":"PCB5","f":12.5,"v":2.5e-8},{"s":"PCB5","f":14,"v":3.2e-8},{"s":"PCB5","f":16,"v":3.2e-8},{"s":"PCB5","f":18,"v":2.5e-8},{"s":"PCB5","f":20,"v":3.2e-8},{"s":"PCB5","f":22.5,"v":2.5e-8},{"s":"PCB5","f":25,"v":1.6e-8},{"s":"PCB5","f":28,"v":7.9e-9},{"s":"PCB5","f":31.5,"v":4e-9},{"s":"PCB5","f":35,"v":2e-9},{"s":"PCB5","f":40,"v":1.3e-9},{"s":"PCB5","f":45,"v":7.9e-10},{"s":"PCB5","f":50,"v":1e-9},{"s":"PCB5","f":56,"v":1.3e-9},{"s":"PCB5","f":63,"v":2e-9},{"s":"PCB5","f":71,"v":3.2e-9},{"s":"PCB5","f":80,"v":4e-9},{"s":"PCB5","f":90,"v":2.5e-9},{"s":"PCB5","f":100,"v":5e-9},{"s":"PCB5","f":112,"v":3.2e-9},{"s":"PCB5","f":125,"v":4e-9},{"s":"PCB5","f":140,"v":2.5e-9},{"s":"PCB5","f":160,"v":3.2e-9},{"s":"PCB5","f":180,"v":2e-9},{"s":"PCB5","f":200,"v":1.6e-9},{"s":"PCB5","f":225,"v":1.3e-9},{"s":"PCB5","f":250,"v":2e-9},{"s":"PCB5","f":280,"v":1.3e-9},{"s":"PCB5","f":315,"v":7.9e-10},{"s":"PCB5","f":355,"v":1.3e-9},{"s":"PCB5","f":400,"v":1e-9},{"s":"PCB5","f":450,"v":6.3e-10},{"s":"PCB5","f":500,"v":1e-9},
{"s":"PCB6","f":10,"v":1.3e-8},{"s":"PCB6","f":11,"v":1.6e-8},{"s":"PCB6","f":12.5,"v":1.3e-8},{"s":"PCB6","f":14,"v":1.6e-8},{"s":"PCB6","f":16,"v":2e-8},{"s":"PCB6","f":18,"v":1.6e-8},{"s":"PCB6","f":20,"v":2e-8},{"s":"PCB6","f":22.5,"v":2.5e-8},{"s":"PCB6","f":25,"v":3.2e-8},{"s":"PCB6","f":28,"v":2.8e-8},{"s":"PCB6","f":31.5,"v":2.5e-8},{"s":"PCB6","f":35,"v":1e-8},{"s":"PCB6","f":40,"v":5e-9},{"s":"PCB6","f":45,"v":3.2e-9},{"s":"PCB6","f":50,"v":2.5e-9},{"s":"PCB6","f":56,"v":3.2e-9},{"s":"PCB6","f":63,"v":2e-9},{"s":"PCB6","f":71,"v":2.5e-9},{"s":"PCB6","f":80,"v":1.6e-9},{"s":"PCB6","f":90,"v":2e-9},{"s":"PCB6","f":100,"v":1.3e-9},{"s":"PCB6","f":112,"v":1.6e-9},{"s":"PCB6","f":125,"v":1e-9},{"s":"PCB6","f":140,"v":7.9e-10},{"s":"PCB6","f":160,"v":1e-9},{"s":"PCB6","f":180,"v":6.3e-10},{"s":"PCB6","f":200,"v":7.9e-10},{"s":"PCB6","f":225,"v":5e-10},{"s":"PCB6","f":250,"v":6.3e-10},{"s":"PCB6","f":280,"v":4e-10},{"s":"PCB6","f":315,"v":5e-10},{"s":"PCB6","f":355,"v":6.3e-10},{"s":"PCB6","f":400,"v":4e-10},{"s":"PCB6","f":450,"v":5e-10},{"s":"PCB6","f":500,"v":4e-10}
],
"p6":[
{"s":"PCB1","f":10,"v":1.6e-7},{"s":"PCB1","f":11,"v":1.6e-7},{"s":"PCB1","f":12.5,"v":1.3e-7},{"s":"PCB1","f":14,"v":1.3e-7},{"s":"PCB1","f":16,"v":1e-7},{"s":"PCB1","f":18,"v":8.9e-8},{"s":"PCB1","f":20,"v":7.9e-8},{"s":"PCB1","f":22.5,"v":6.3e-8},{"s":"PCB1","f":25,"v":5e-8},{"s":"PCB1","f":28,"v":3.2e-8},{"s":"PCB1","f":31.5,"v":2e-8},{"s":"PCB1","f":35,"v":1.4e-8},{"s":"PCB1","f":40,"v":1e-8},{"s":"PCB1","f":45,"v":6.3e-9},{"s":"PCB1","f":50,"v":7.9e-9},{"s":"PCB1","f":56,"v":6.3e-9},{"s":"PCB1","f":63,"v":7.9e-9},{"s":"PCB1","f":71,"v":5e-9},{"s":"PCB1","f":80,"v":6.3e-9},{"s":"PCB1","f":90,"v":5e-9},{"s":"PCB1","f":100,"v":6.3e-9},{"s":"PCB1","f":112,"v":4e-9},{"s":"PCB1","f":125,"v":5e-9},{"s":"PCB1","f":140,"v":6.3e-9},{"s":"PCB1","f":160,"v":4e-9},{"s":"PCB1","f":180,"v":5e-9},{"s":"PCB1","f":200,"v":6.3e-9},{"s":"PCB1","f":225,"v":1e-8},{"s":"PCB1","f":250,"v":1.6e-8},{"s":"PCB1","f":280,"v":2e-8},{"s":"PCB1","f":315,"v":1.3e-8},{"s":"PCB1","f":355,"v":7.9e-9},{"s":"PCB1","f":400,"v":1e-8},{"s":"PCB1","f":450,"v":6.3e-9},{"s":"PCB1","f":500,"v":1e-8},
{"s":"PCB2","f":10,"v":3.2e-8},{"s":"PCB2","f":11,"v":4e-8},{"s":"PCB2","f":12.5,"v":3.2e-8},{"s":"PCB2","f":14,"v":2.5e-8},{"s":"PCB2","f":16,"v":3.2e-8},{"s":"PCB2","f":18,"v":4e-8},{"s":"PCB2","f":20,"v":3.2e-8},{"s":"PCB2","f":22.5,"v":3.2e-8},{"s":"PCB2","f":25,"v":4e-8},{"s":"PCB2","f":28,"v":3.2e-8},{"s":"PCB2","f":31.5,"v":2.5e-8},{"s":"PCB2","f":35,"v":1.3e-8},{"s":"PCB2","f":40,"v":6.3e-9},{"s":"PCB2","f":45,"v":4e-9},{"s":"PCB2","f":50,"v":3.2e-9},{"s":"PCB2","f":56,"v":2.5e-9},{"s":"PCB2","f":63,"v":3.2e-9},{"s":"PCB2","f":71,"v":2e-9},{"s":"PCB2","f":80,"v":2.5e-9},{"s":"PCB2","f":90,"v":2e-9},{"s":"PCB2","f":100,"v":1.6e-9},{"s":"PCB2","f":112,"v":2e-9},{"s":"PCB2","f":125,"v":1.6e-9},{"s":"PCB2","f":140,"v":2e-9},{"s":"PCB2","f":160,"v":2.5e-9},{"s":"PCB2","f":180,"v":3.2e-9},{"s":"PCB2","f":200,"v":5e-9},{"s":"PCB2","f":225,"v":7.9e-9},{"s":"PCB2","f":250,"v":1.3e-8},{"s":"PCB2","f":280,"v":2e-8},{"s":"PCB2","f":315,"v":1.6e-8},{"s":"PCB2","f":355,"v":7.9e-9},{"s":"PCB2","f":400,"v":1.3e-8},{"s":"PCB2","f":450,"v":6.3e-9},{"s":"PCB2","f":500,"v":1e-8},
{"s":"PCB3","f":10,"v":2e-8},{"s":"PCB3","f":11,"v":2.2e-8},{"s":"PCB3","f":12.5,"v":2e-8},{"s":"PCB3","f":14,"v":2.5e-8},{"s":"PCB3","f":16,"v":2.5e-8},{"s":"PCB3","f":18,"v":2.5e-8},{"s":"PCB3","f":20,"v":3.2e-8},{"s":"PCB3","f":22.5,"v":4e-8},{"s":"PCB3","f":25,"v":4.5e-8},{"s":"PCB3","f":28,"v":3.2e-8},{"s":"PCB3","f":31.5,"v":1.6e-8},{"s":"PCB3","f":35,"v":7.9e-9},{"s":"PCB3","f":40,"v":4e-9},{"s":"PCB3","f":45,"v":1.6e-9},{"s":"PCB3","f":50,"v":7.9e-10},{"s":"PCB3","f":56,"v":4e-10},{"s":"PCB3","f":63,"v":2.5e-10},{"s":"PCB3","f":71,"v":1.6e-10},{"s":"PCB3","f":80,"v":1e-10},{"s":"PCB3","f":90,"v":6.3e-11},{"s":"PCB3","f":100,"v":5e-11},{"s":"PCB3","f":112,"v":7.9e-11},{"s":"PCB3","f":125,"v":4e-11},{"s":"PCB3","f":140,"v":6.3e-11},{"s":"PCB3","f":160,"v":1.3e-10},{"s":"PCB3","f":180,"v":2.5e-10},{"s":"PCB3","f":200,"v":4e-10},{"s":"PCB3","f":225,"v":6.3e-10},{"s":"PCB3","f":250,"v":1e-9},{"s":"PCB3","f":280,"v":6.3e-10},{"s":"PCB3","f":315,"v":3.2e-10},{"s":"PCB3","f":355,"v":2e-10},{"s":"PCB3","f":400,"v":1e-10},{"s":"PCB3","f":450,"v":4e-11},{"s":"PCB3","f":500,"v":2e-11},
{"s":"PCB4","f":10,"v":3.2e-8},{"s":"PCB4","f":11,"v":2.5e-8},{"s":"PCB4","f":12.5,"v":1.8e-8},{"s":"PCB4","f":14,"v":1.3e-8},{"s":"PCB4","f":16,"v":7.9e-9},{"s":"PCB4","f":18,"v":5e-9},{"s":"PCB4","f":20,"v":3.2e-9},{"s":"PCB4","f":22.5,"v":2e-9},{"s":"PCB4","f":25,"v":1.3e-9},{"s":"PCB4","f":28,"v":1e-9},{"s":"PCB4","f":31.5,"v":6.3e-10},{"s":"PCB4","f":35,"v":4e-10},{"s":"PCB4","f":40,"v":2.5e-10},{"s":"PCB4","f":45,"v":1.6e-10},{"s":"PCB4","f":50,"v":1.3e-10},{"s":"PCB4","f":56,"v":1e-10},{"s":"PCB4","f":63,"v":1e-10},{"s":"PCB4","f":71,"v":1.3e-10},{"s":"PCB4","f":80,"v":1e-10},{"s":"PCB4","f":90,"v":1.6e-10},{"s":"PCB4","f":100,"v":2e-10},{"s":"PCB4","f":112,"v":1.3e-10},{"s":"PCB4","f":125,"v":1e-10},{"s":"PCB4","f":140,"v":1.6e-10},{"s":"PCB4","f":160,"v":2.5e-10},{"s":"PCB4","f":180,"v":4e-10},{"s":"PCB4","f":200,"v":7.9e-10},{"s":"PCB4","f":225,"v":1.6e-9},{"s":"PCB4","f":250,"v":3.2e-9},{"s":"PCB4","f":280,"v":5e-9},{"s":"PCB4","f":315,"v":4e-9},{"s":"PCB4","f":355,"v":2e-9},{"s":"PCB4","f":400,"v":1.3e-9},{"s":"PCB4","f":450,"v":2e-9},{"s":"PCB4","f":500,"v":1.3e-9},
{"s":"PCB5","f":10,"v":5e-8},{"s":"PCB5","f":11,"v":4.5e-8},{"s":"PCB5","f":12.5,"v":4e-8},{"s":"PCB5","f":14,"v":3.2e-8},{"s":"PCB5","f":16,"v":2.5e-8},{"s":"PCB5","f":18,"v":2e-8},{"s":"PCB5","f":20,"v":1.6e-8},{"s":"PCB5","f":22.5,"v":1.8e-8},{"s":"PCB5","f":25,"v":3.2e-8},{"s":"PCB5","f":28,"v":4.5e-8},{"s":"PCB5","f":31.5,"v":4e-8},{"s":"PCB5","f":35,"v":2e-8},{"s":"PCB5","f":40,"v":1e-8},{"s":"PCB5","f":45,"v":5e-9},{"s":"PCB5","f":50,"v":4e-9},{"s":"PCB5","f":56,"v":3.2e-9},{"s":"PCB5","f":63,"v":4e-9},{"s":"PCB5","f":71,"v":2.5e-9},{"s":"PCB5","f":80,"v":3.2e-9},{"s":"PCB5","f":90,"v":2.5e-9},{"s":"PCB5","f":100,"v":3.2e-9},{"s":"PCB5","f":112,"v":2.5e-9},{"s":"PCB5","f":125,"v":3.2e-9},{"s":"PCB5","f":140,"v":2e-9},{"s":"PCB5","f":160,"v":1.6e-9},{"s":"PCB5","f":180,"v":1.3e-9},{"s":"PCB5","f":200,"v":1e-9},{"s":"PCB5","f":225,"v":6.3e-10},{"s":"PCB5","f":250,"v":5e-10},{"s":"PCB5","f":280,"v":4e-10},{"s":"PCB5","f":315,"v":5e-10},{"s":"PCB5","f":355,"v":3.2e-10},{"s":"PCB5","f":400,"v":2.5e-10},{"s":"PCB5","f":450,"v":3.2e-10},{"s":"PCB5","f":500,"v":2e-10},
{"s":"PCB6","f":10,"v":4.5e-8},{"s":"PCB6","f":11,"v":5e-8},{"s":"PCB6","f":12.5,"v":5.6e-8},{"s":"PCB6","f":14,"v":6.3e-8},{"s":"PCB6","f":16,"v":5.6e-8},{"s":"PCB6","f":18,"v":4e-8},{"s":"PCB6","f":20,"v":2.5e-8},{"s":"PCB6","f":22.5,"v":3.2e-8},{"s":"PCB6","f":25,"v":4.5e-8},{"s":"PCB6","f":28,"v":5e-8},{"s":"PCB6","f":31.5,"v":3.2e-8},{"s":"PCB6","f":35,"v":1.6e-8},{"s":"PCB6","f":40,"v":6.3e-9},{"s":"PCB6","f":45,"v":3.2e-9},{"s":"PCB6","f":50,"v":2.5e-9},{"s":"PCB6","f":56,"v":2e-9},{"s":"PCB6","f":63,"v":1.6e-9},{"s":"PCB6","f":71,"v":1.3e-9},{"s":"PCB6","f":80,"v":1.6e-9},{"s":"PCB6","f":90,"v":1.3e-9},{"s":"PCB6","f":100,"v":1e-9},{"s":"PCB6","f":112,"v":1.3e-9},{"s":"PCB6","f":125,"v":7.9e-10},{"s":"PCB6","f":140,"v":6.3e-10},{"s":"PCB6","f":160,"v":5e-10},{"s":"PCB6","f":180,"v":6.3e-10},{"s":"PCB6","f":200,"v":4e-10},{"s":"PCB6","f":225,"v":3.2e-10},{"s":"PCB6","f":250,"v":2.5e-10},{"s":"PCB6","f":280,"v":2e-10},{"s":"PCB6","f":315,"v":2.5e-10},{"s":"PCB6","f":355,"v":1.6e-10},{"s":"PCB6","f":400,"v":1.3e-10},{"s":"PCB6","f":450,"v":1e-10},{"s":"PCB6","f":500,"v":7.9e-11}
]
},
"columns":3,
"spacing":{"row":18,"column":40},
"bounds":"flush",
"resolve":{"scale":{"color":"independent"},"legend":{"color":"independent"}},
"concat":[
{"width":138,"height":139,
"layer":[
{"data":{"name":"m6"},"mark":{"type":"line","strokeWidth":0.85,"clip":true},
"encoding":{
"x":{"field":"f","type":"quantitative","scale":{"type":"log","domain":[10,500],"nice":false},"axis":{"values":[10,100,200,300,500],"format":"d","title":null}},
"y":{"field":"v","type":"quantitative","scale":{"type":"log","domain":[1e-11,1e-7],"nice":false},"axis":{"values":[1e-11,1e-10,1e-9,1e-8,1e-7],"labelExpr":"datum.value>5e-8?'1×10⁻⁷':datum.value>5e-9?'1×10⁻⁸':datum.value>5e-10?'1×10⁻⁹':datum.value>5e-11?'1×10⁻¹⁰':'1×10⁻¹¹'","title":"PSD(psi²/kHz)"}},
"color":{"field":"s","type":"nominal","scale":{"domain":["PCB1","PCB2","PCB3","PCB4","PCB5","PCB6"],"range":["#3a3a3a","#e8534a","#3a56d8","#2e9e68","#a66ee8","#cdb21c"]},
"legend":{"orient":"bottom-left","title":null,"symbolType":"stroke","symbolSize":121,"symbolStrokeWidth":1.2,"labelFont":"Liberation Serif","labelFontSize":10,"labelColor":"#111","labelOffset":5,"strokeColor":"#444","fillColor":"white","padding":3,"offset":0,"rowPadding":0,"symbolOffset":4}}}},
{"data":{"values":[{}]},"mark":{"type":"rect","fill":"white","stroke":"#444","strokeWidth":0.8},"encoding":{"x":{"datum":153,"type":"quantitative"},"x2":{"datum":414},"y":{"datum":6.8e-8,"type":"quantitative"},"y2":{"datum":3.3e-8}}},
{"data":{"values":[{}]},"mark":{"type":"text","text":"AoA","align":"right","baseline":"middle","fontStyle":"italic","fontSize":8.5,"font":"Liberation Serif","color":"#111"},"encoding":{"x":{"datum":248,"type":"quantitative"},"y":{"datum":4.7e-8,"type":"quantitative"}}},
{"data":{"values":[{}]},"mark":{"type":"text","text":"=−6°","align":"left","baseline":"middle","fontSize":8.5,"font":"Liberation Serif","color":"#111"},"encoding":{"x":{"datum":248,"type":"quantitative"},"y":{"datum":4.7e-8,"type":"quantitative"}}}
]},
{"width":138,"height":139,
"layer":[
{"data":{"name":"m3"},"mark":{"type":"line","strokeWidth":0.85,"clip":true},
"encoding":{
"x":{"field":"f","type":"quantitative","scale":{"type":"log","domain":[10,500],"nice":false},"axis":{"values":[10,100,200,300,500],"format":"d","title":null}},
"y":{"field":"v","type":"quantitative","scale":{"type":"log","domain":[1e-11,1e-7],"nice":false},"axis":{"values":[1e-11,1e-10,1e-9,1e-8,1e-7],"labelExpr":"datum.value>5e-8?'1×10⁻⁷':datum.value>5e-9?'1×10⁻⁸':datum.value>5e-10?'1×10⁻⁹':datum.value>5e-11?'1×10⁻¹⁰':'1×10⁻¹¹'","title":null}},
"color":{"field":"s","type":"nominal","scale":{"domain":["PCB1","PCB2","PCB3","PCB4","PCB5","PCB6"],"range":["#3a3a3a","#e8534a","#3a56d8","#2e9e68","#a66ee8","#cdb21c"]},"legend":null}}},
{"data":{"values":[{}]},"mark":{"type":"rect","fill":"white","stroke":"#444","strokeWidth":0.8},"encoding":{"x":{"datum":64,"type":"quantitative"},"x2":{"datum":180},"y":{"datum":6.8e-8,"type":"quantitative"},"y2":{"datum":3.1e-8}}},
{"data":{"values":[{}]},"mark":{"type":"text","text":"AoA","align":"right","baseline":"middle","fontStyle":"italic","fontSize":8.5,"font":"Liberation Serif","color":"#111"},"encoding":{"x":{"datum":103,"type":"quantitative"},"y":{"datum":4.6e-8,"type":"quantitative"}}},
{"data":{"values":[{}]},"mark":{"type":"text","text":"=−3°","align":"left","baseline":"middle","fontSize":8.5,"font":"Liberation Serif","color":"#111"},"encoding":{"x":{"datum":103,"type":"quantitative"},"y":{"datum":4.6e-8,"type":"quantitative"}}}
]},
{"width":138,"height":139,
"layer":[
{"data":{"name":"z0"},"mark":{"type":"line","strokeWidth":0.85,"clip":true},
"encoding":{
"x":{"field":"f","type":"quantitative","scale":{"type":"log","domain":[10,500],"nice":false},"axis":{"values":[10,100,200,300,500],"format":"d","title":"f(kHz)"}},
"y":{"field":"v","type":"quantitative","scale":{"type":"log","domain":[1e-11,1e-7],"nice":false},"axis":{"values":[1e-11,1e-10,1e-9,1e-8,1e-7],"labelExpr":"datum.value>5e-8?'1×10⁻⁷':datum.value>5e-9?'1×10⁻⁸':datum.value>5e-10?'1×10⁻⁹':datum.value>5e-11?'1×10⁻¹⁰':'1×10⁻¹¹'","title":null}},
"color":{"field":"s","type":"nominal","scale":{"domain":["PCB1","PCB2","PCB3","PCB4","PCB5","PCB6"],"range":["#3a3a3a","#e8534a","#3a56d8","#2e9e68","#a66ee8","#cdb21c"]},"legend":null}}},
{"data":{"values":[{}]},"mark":{"type":"rect","fill":"white","stroke":"#444","strokeWidth":0.8},"encoding":{"x":{"datum":158,"type":"quantitative"},"x2":{"datum":413},"y":{"datum":5.9e-8,"type":"quantitative"},"y2":{"datum":3.1e-8}}},
{"data":{"values":[{}]},"mark":{"type":"text","text":"AoA","align":"right","baseline":"middle","fontStyle":"italic","fontSize":8.5,"font":"Liberation Serif","color":"#111"},"encoding":{"x":{"datum":258,"type":"quantitative"},"y":{"datum":4.3e-8,"type":"quantitative"}}},
{"data":{"values":[{}]},"mark":{"type":"text","text":"=0°","align":"left","baseline":"middle","fontSize":8.5,"font":"Liberation Serif","color":"#111"},"encoding":{"x":{"datum":258,"type":"quantitative"},"y":{"datum":4.3e-8,"type":"quantitative"}}}
]},
{"width":138,"height":139,
"layer":[
{"data":{"name":"p3"},"mark":{"type":"line","strokeWidth":0.85,"clip":true},
"encoding":{
"x":{"field":"f","type":"quantitative","scale":{"type":"log","domain":[10,500],"nice":false},"axis":{"values":[10,100,200,300,500],"format":"d","title":"f(kHz)"}},
"y":{"field":"v","type":"quantitative","scale":{"type":"log","domain":[1e-11,1e-7],"nice":false},"axis":{"values":[1e-11,1e-10,1e-9,1e-8,1e-7],"labelExpr":"datum.value>5e-8?'1×10⁻⁷':datum.value>5e-9?'1×10⁻⁸':datum.value>5e-10?'1×10⁻⁹':datum.value>5e-11?'1×10⁻¹⁰':'1×10⁻¹¹'","title":"PSD(psi²/kHz)"}},
"color":{"field":"s","type":"nominal","scale":{"domain":["PCB1","PCB2","PCB3","PCB4","PCB5","PCB6"],"range":["#3a3a3a","#e8534a","#3a56d8","#2e9e68","#a66ee8","#cdb21c"]},"legend":null}}},
{"data":{"values":[{}]},"mark":{"type":"rect","fill":"white","stroke":"#444","strokeWidth":0.8},"encoding":{"x":{"datum":172,"type":"quantitative"},"x2":{"datum":410},"y":{"datum":6.8e-8,"type":"quantitative"},"y2":{"datum":3.3e-8}}},
{"data":{"values":[{}]},"mark":{"type":"text","text":"AoA","align":"right","baseline":"middle","fontStyle":"italic","fontSize":8.5,"font":"Liberation Serif","color":"#111"},"encoding":{"x":{"datum":275,"type":"quantitative"},"y":{"datum":4.7e-8,"type":"quantitative"}}},
{"data":{"values":[{}]},"mark":{"type":"text","text":"=3°","align":"left","baseline":"middle","fontSize":8.5,"font":"Liberation Serif","color":"#111"},"encoding":{"x":{"datum":275,"type":"quantitative"},"y":{"datum":4.7e-8,"type":"quantitative"}}}
]},
{"width":138,"height":139,
"layer":[
{"data":{"name":"p6"},"mark":{"type":"line","strokeWidth":0.85,"clip":true},
"encoding":{
"x":{"field":"f","type":"quantitative","scale":{"type":"log","domain":[10,500],"nice":false},"axis":{"values":[10,100,200,300,500],"format":"d","title":"f(kHz)"}},
"y":{"field":"v","type":"quantitative","scale":{"type":"log","domain":[1e-11,1e-7],"nice":false},"axis":{"values":[1e-11,1e-10,1e-9,1e-8,1e-7],"labelExpr":"datum.value>5e-8?'1×10⁻⁷':datum.value>5e-9?'1×10⁻⁸':datum.value>5e-10?'1×10⁻⁹':datum.value>5e-11?'1×10⁻¹⁰':'1×10⁻¹¹'","title":null}},
"color":{"field":"s","type":"nominal","scale":{"domain":["PCB1","PCB2","PCB3","PCB4","PCB5","PCB6"],"range":["#3a3a3a","#e8534a","#3a56d8","#2e9e68","#a66ee8","#cdb21c"]},"legend":null}}},
{"data":{"values":[{}]},"mark":{"type":"rect","fill":"white","stroke":"#444","strokeWidth":0.8},"encoding":{"x":{"datum":160,"type":"quantitative"},"x2":{"datum":400},"y":{"datum":6.8e-8,"type":"quantitative"},"y2":{"datum":3.3e-8}}},
{"data":{"values":[{}]},"mark":{"type":"text","text":"AoA","align":"right","baseline":"middle","fontStyle":"italic","fontSize":8.5,"font":"Liberation Serif","color":"#111"},"encoding":{"x":{"datum":258,"type":"quantitative"},"y":{"datum":4.7e-8,"type":"quantitative"}}},
{"data":{"values":[{}]},"mark":{"type":"text","text":"=6°","align":"left","baseline":"middle","fontSize":8.5,"font":"Liberation Serif","color":"#111"},"encoding":{"x":{"datum":258,"type":"quantitative"},"y":{"datum":4.7e-8,"type":"quantitative"}}}
]}
]
}
